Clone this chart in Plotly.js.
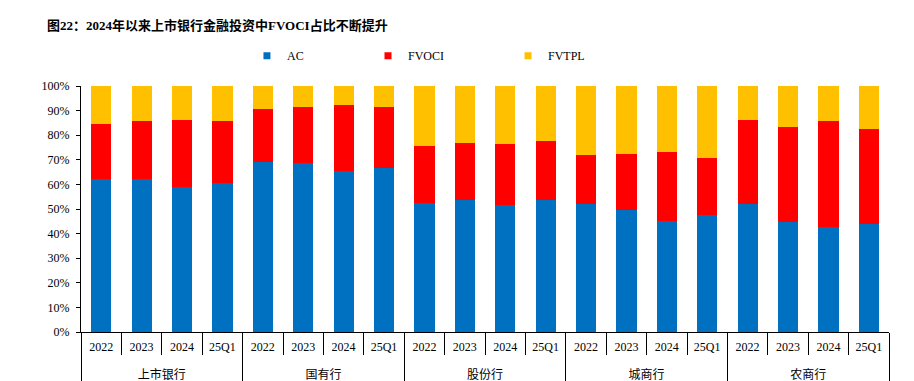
<!DOCTYPE html>
<html>
<head>
<meta charset="utf-8">
<script src="https://cdn.plot.ly/plotly-3.0.1.min.js"></script>
<style>html,body{margin:0;padding:0;background:#fff;}#chart{width:914px;height:381px;}</style>
</head>
<body>
<div id="chart"></div>
<script>
const groups = ["上市银行", "国有行", "股份行", "城商行", "农商行"];
const periods = ["2022", "2023", "2024", "25Q1"];
const seriesNames = ["AC", "FVOCI", "FVTPL"];
const seriesColors = ["#0070C0", "#FF0000", "#FFC000"];
// values in %, order: group by group, period by period
const acValues    = [62.4, 62.0, 59.0, 60.7,  69.2, 68.8, 65.3, 66.8,  52.6, 53.5, 51.5, 53.8,  51.9, 49.5, 45.0, 47.4,  51.9, 44.6, 42.7, 43.8];
const fvociValues = [22.2, 23.6, 27.1, 24.9,  21.6, 22.8, 26.9, 24.8,  23.2, 23.5, 25.0, 23.8,  19.9, 22.9, 28.0, 23.4,  34.2, 38.8, 42.9, 38.8];
const fvtplValues = [15.4, 14.4, 13.9, 14.4,   9.2,  8.4,  7.8,  8.4,  24.2, 23.0, 23.5, 22.4,  28.2, 27.6, 27.0, 29.2,  13.9, 16.6, 14.4, 17.4];
const titleText = "图22：2024年以来上市银行金融投资中FVOCI占比不断提升";

const FONT = '"Liberation Serif", "Times New Roman", "Noto Sans CJK SC", serif';

// multicategory coordinates; group label is pushed one line lower for display
const xGroup = [], xPeriod = [];
groups.forEach(g => periods.forEach(p => { xGroup.push("<br>" + g); xPeriod.push(p); }));

const allValues = [acValues, fvociValues, fvtplValues];
const traces = [];
allValues.forEach((vals, i) => {
  traces.push({
    type: "bar",
    name: seriesNames[i],
    x: [xGroup, xPeriod],
    y: vals,
    marker: {color: seriesColors[i], line: {width: 0}},
    showlegend: false,
    hoverinfo: "skip"
  });
});
const legendKeys = ["legend", "legend2", "legend3"];
seriesNames.forEach((n, i) => {
  traces.push({
    type: "scatter",
    mode: "markers",
    name: n,
    x: [[null], [null]],
    y: [null],
    marker: {symbol: "square", size: 7, color: seriesColors[i]},
    showlegend: true,
    legend: legendKeys[i]
  });
});

const legendBase = {
  orientation: "h",
  xanchor: "left",
  yanchor: "middle",
  y: 1.123,
  font: {family: FONT, size: 12, color: "#000"},
  bgcolor: "rgba(0,0,0,0)",
  itemwidth: 30
};

const layout = {
  width: 914,
  height: 381,
  paper_bgcolor: "#fff",
  plot_bgcolor: "#fff",
  margin: {l: 81, r: 25, t: 86, b: 49, pad: 0},
  font: {family: FONT, size: 12, color: "#000"},
  title: {
    text: "<b>" + titleText + "</b>",
    font: {family: FONT, size: 13, color: "#000"},
    xref: "container", yref: "container",
    x: 47 / 914, xanchor: "left",
    y: 1 - 25 / 381, yanchor: "middle"
  },
  barmode: "stack",
  bargap: 0.5,
  legend: Object.assign({}, legendBase, {x: 0.2054}),
  legend2: Object.assign({}, legendBase, {x: 0.3552}),
  legend3: Object.assign({}, legendBase, {x: 0.5285}),
  xaxis: {
    type: "multicategory",
    showline: true,
    linecolor: "#000",
    linewidth: 1,
    ticks: "outside",
    ticklen: 22,
    tickcolor: "#000",
    showdividers: true,
    dividercolor: "#000",
    dividerwidth: 1,
    tickfont: {family: FONT, size: 12, color: "#000"},
    ticklabelstandoff: 4,
    showgrid: false,
    automargin: false,
    fixedrange: true
  },
  yaxis: {
    range: [0, 100],
    dtick: 10,
    ticksuffix: "%",
    showline: true,
    linecolor: "#000",
    linewidth: 1,
    ticks: "outside",
    ticklen: 4,
    tickcolor: "#000",
    tickfont: {family: FONT, size: 12, color: "#000"},
    ticklabelstandoff: 4,
    showgrid: false,
    zeroline: false,
    automargin: false,
    fixedrange: true
  }
};

Plotly.newPlot("chart", traces, layout, {displayModeBar: false, responsive: false});
</script>
</body>
</html>
